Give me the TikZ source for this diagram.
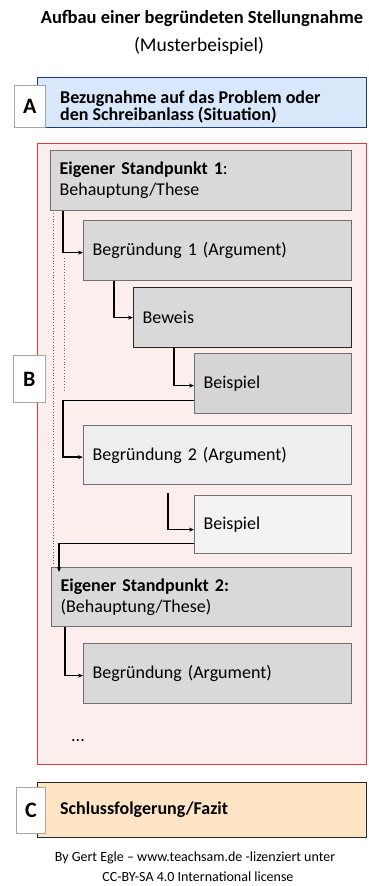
\documentclass[tikz,border=0pt]{standalone}
\usepackage{fontspec}
\setmainfont{Carlito}
\usetikzlibrary{arrows.meta}
\definecolor{ablue}{HTML}{D8E7FA}
\definecolor{anavy}{HTML}{1F3A78}
\definecolor{bred}{HTML}{E03A3A}
\definecolor{bpink}{HTML}{FDEEEE}
\definecolor{gfill}{HTML}{D9D9D9}
\definecolor{gdark}{HTML}{D5D5D5}
\definecolor{glight}{HTML}{EEEEEE}
\definecolor{glighter}{HTML}{F3F3F3}
\definecolor{gline}{HTML}{707070}
\definecolor{cpeach}{HTML}{FCE4C4}
\tikzset{
  gbox/.style={draw=gline, line width=1.2pt, fill=gfill, anchor=north west, inner ysep=0pt, inner xsep=9pt, align=left, font=\fontsize{18}{21}\selectfont},
  lbl/.style={draw=gray!70, line width=0.8pt, fill=white, anchor=north west, inner sep=0pt, font=\fontsize{22}{22}\selectfont\bfseries},
  conn/.style={line width=1.3pt, -{Stealth[length=5pt,width=4pt]}},
}
\begin{document}
\begin{tikzpicture}[x=1pt,y=-1pt]
\useasboundingbox (0,0) rectangle (369,886);
% title
\node[font=\fontsize{18.5}{22}\selectfont\bfseries] (t1) at (202,18) {Aufbau einer begründeten Stellungnahme};
\node[font=\fontsize{19.5}{24}\selectfont] (t2) at (199,46) {(Musterbeispiel)};
% A
\node[draw=anavy, line width=1.2pt, fill=ablue, anchor=north west, minimum width=329pt, minimum height=50pt, inner sep=0pt] (A) at (37,77) {};
\node[anchor=west, align=left, inner sep=0pt, font=\fontsize{18}{17.5}\selectfont\bfseries] (Atext) at (60,107) {Bezugnahme auf das Problem oder\\den Schreibanlass (Situation)};
\node[lbl, minimum width=31pt, minimum height=42pt] (Al) at (14,85) {A};
% B
\node[draw=bred, line width=1.2pt, fill=bpink, anchor=north west, minimum width=329pt, minimum height=621pt, inner sep=0pt] (B) at (37,143) {};
\node[lbl, minimum width=32pt, minimum height=47pt] (Bl) at (13,355) {B};
% dotted guides
\draw[dotted, line width=0.8pt, gray!80!black] (53,213) -- (53,565);
\draw[dotted, line width=0.8pt, gray!80!black] (64,258) -- (64,390);
% boxes
\node[gbox, minimum width=301pt, minimum height=60pt, text width=283pt] (sp1) at (50,150) {\textbf{Eigener Standpunkt 1}:\\Behauptung/These};
\node[gbox, minimum width=268pt, minimum height=60pt, text width=250pt] (bg1) at (83,220) {Begründung 1 (Argument)};
\node[gbox, draw=black!85, minimum width=218pt, minimum height=60pt, text width=200pt] (bw) at (133,287) {Beweis};
\node[gbox, fill=gdark, minimum width=157pt, minimum height=60pt, text width=139pt] (b1) at (194,353) {Beispiel};
\node[gbox, fill=glight, minimum width=268pt, minimum height=59pt, text width=250pt] (bg2) at (83,425) {Begründung 2 (Argument)};
\node[gbox, fill=glighter, minimum width=157pt, minimum height=58pt, text width=139pt] (b2) at (194,495) {Beispiel};
\node[gbox, minimum width=300pt, minimum height=59pt, text width=282pt] (sp2) at (51,567) {\textbf{Eigener Standpunkt 2:}\\(Behauptung/These)};
\node[gbox, minimum width=268pt, minimum height=60pt, text width=250pt] (bg3) at (83,643) {Begründung (Argument)};
\node[font=\fontsize{18}{18}\selectfont] (dots) at (78,741) {...};
% connectors
\draw[conn] ([xshift=13pt]sp1.south west) |- ([yshift=-2pt]bg1.west);
\draw[conn] ([xshift=31pt]bg1.south west) |- (bw.west);
\draw[conn] ([xshift=41pt]bw.south west) |- ([yshift=-2pt]b1.west);
\draw[conn] ([yshift=-17pt]b1.west) -| ([xshift=-20pt,yshift=-2pt]bg2.west) -- ([yshift=-2pt]bg2.west);
\draw[conn] ([xshift=85pt,yshift=-8pt]bg2.south west) |- ([yshift=-5pt]b2.west);
\draw[conn] ([yshift=-19pt]b2.west) -| ([xshift=8pt,yshift=-5pt]sp2.north west);
\draw[conn] ([xshift=14pt]sp2.south west) |- ([yshift=-2pt]bg3.west);
% C
\node[draw=black!85, line width=1.2pt, fill=cpeach, anchor=north west, minimum width=329pt, minimum height=55pt, inner sep=0pt] (C) at (37,782) {};
\node[anchor=west, inner sep=0pt, font=\fontsize{18}{20}\selectfont\bfseries] (Ctext) at (60,810) {Schlussfolgerung/Fazit};
\node[lbl, minimum width=29pt, minimum height=46pt] (Cl) at (16,787) {C};
% footer
\node[font=\fontsize{14}{16}\selectfont] (f1) at (195,858) {By Gert Egle -- www.teachsam.de -lizenziert unter};
\node[font=\fontsize{14}{16}\selectfont] (f2) at (198,877) {CC-BY-SA 4.0 International license};
\end{tikzpicture}
\end{document}
